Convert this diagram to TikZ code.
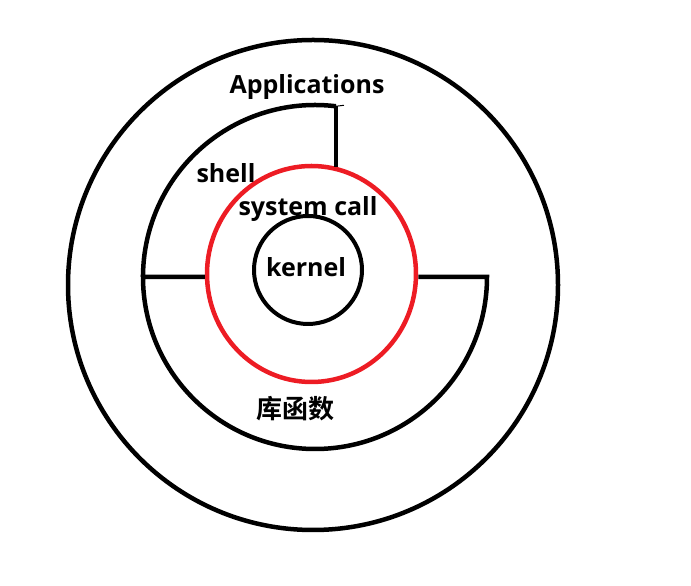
\documentclass[tikz,border=0pt]{standalone}
\usepackage{fontspec}
\setmainfont{Open Sans}
\newfontfamily\cjk{Noto Sans CJK SC}[BoldFont={Noto Sans CJK SC Bold}]
\usetikzlibrary{shapes.geometric}
\definecolor{paintred}{RGB}{237,28,36}

\tikzset{
  ring/.style={draw, line width=4.5pt},
  layertext/.style={font=\bfseries\fontsize{25}{29}\selectfont, inner sep=0pt}
}

\begin{document}
\begin{tikzpicture}[x=1pt, y=1pt]
    \useasboundingbox (0,0) rectangle (691,586);

    % Applications ring
    \node[circle, ring, minimum size=490, inner sep=0pt] (apps) at (313,301) {};

    % system call ring
    \node[ellipse, ring, draw=paintred, minimum width=209, minimum height=216, inner sep=0pt] (syscall) at (311.5,312) {};

    % kernel
    \node[circle, ring, line width=4pt, minimum size=108, inner sep=0pt] (kernel) at (308,316) {};

    % shell / library ring
    \coordinate (shL) at (143,309);
    \coordinate (shR) at (487,309);
    \draw[ring] (shL) arc[start angle=180, end angle=83, radius=172] coordinate (shT);
    \draw[ring] (shT) -- (shT |- syscall.76);
    \draw[line width=1pt] (shT) -- ++(8,1);
    \draw[ring] (syscall.east |- shR) -- (shR)
        arc[start angle=0, end angle=-180, radius=172] -- (syscall.west |- shL);

    % labels
    \node[layertext] (appslabel) at (307,499) {Applications};
    \node[layertext] (shelllabel) at (226,413) {shell};
    \node[layertext] (syscalllabel) at (308,377) {system call};
    \node[layertext] (kernellabel) at (306,319) {kernel};
    \node[layertext, font=\cjk\bfseries\fontsize{26}{29}\selectfont] (liblabel) at (295,177) {库函数};
\end{tikzpicture}
\end{document}
